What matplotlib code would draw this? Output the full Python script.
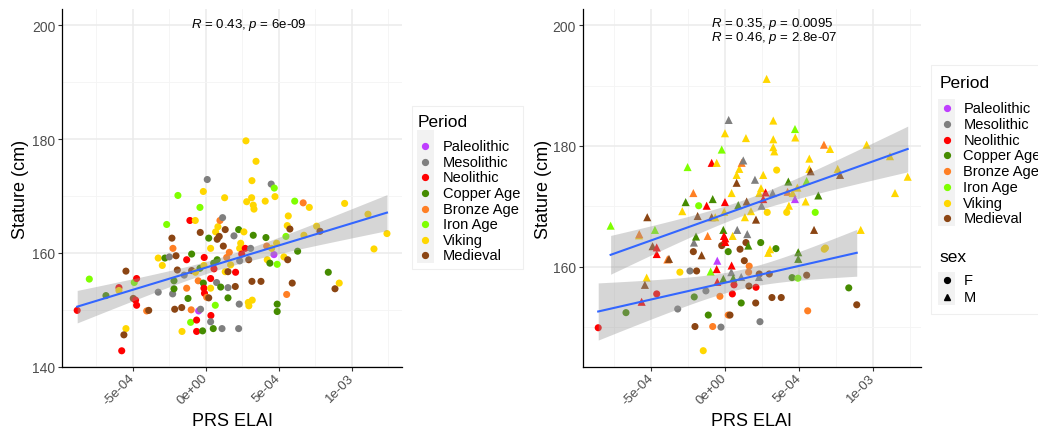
import numpy as np
import matplotlib
matplotlib.use("Agg")
import matplotlib.pyplot as plt
from matplotlib.patches import Rectangle

plt.rcParams['font.family'] = ['Liberation Sans', 'DejaVu Sans']
plt.rcParams['mathtext.fontset'] = 'custom'
plt.rcParams['mathtext.rm'] = 'Liberation Sans'
plt.rcParams['mathtext.it'] = 'Liberation Sans:italic'

# period names, short codes and colours
periods = ['Paleolithic', 'Mesolithic', 'Neolithic', 'Copper Age',
           'Bronze Age', 'Iron Age', 'Viking', 'Medieval']
period_codes = ['Pal', 'Mes', 'Neo', 'Cu', 'Br', 'Fe', 'Vik', 'Med']
period_colors = ['#BF3EFF', '#7F7F7F', '#FF0000', '#458B00',
                 '#FF7F24', '#7FFF00', '#FFD700', '#8B4513']

# left panel: all individuals (PRS in units of 1e-4)
left_prs = [-8.8, -7.97, -6.83, -5.94, -5.94, -5.46, -5.46, -5.6, -5.75, -4.89,
            -4.96, -4.73, -4.8, -4.73, -4.04, -3.9, -3.25, -3.25, -2.97, -2.79,
            -2.67, -2.49, -2.31, -2.24, -2.26, -2.17, -2.17, -2.12, -2.03, -1.94,
            -1.9, -1.62, -1.64, -1.47, -1.3, -1.21, -1.08, -1.03, -0.99, -0.96,
            -0.96, -1.3, -0.71, -0.62, -0.62, -0.51, -0.48, -0.39, -0.37, -0.39,
            -0.35, -0.21, -0.16, -0.16, -0.12, -0.1, -0.12, -0.08, 0.07, 0.21,
            0.11, 0.21, 0.34, 0.34, 0.34, 0.36, 0.34, 0.52, 0.55, 0.57,
            0.66, 0.75, 0.68, 0.84, 0.79, 0.93, 0.79, 0.98, 1.03, 1.12,
            1.16, 1.21, 1.3, 1.34, 1.34, 1.53, 1.53, 1.53, 1.44, 1.62,
            1.71, 1.94, 2.03, 2.05, 2.26, 2.3, 2.26, 2.4, 2.33, 2.47,
            2.33, 2.62, 2.76, 2.71, 2.81, 2.92, 2.96, 2.95, 3.08, 3.17,
            3.15, 3.17, 3.19, 3.26, 3.31, 3.26, 3.45, 3.79, 4.08, 4.13,
            4.18, 4.22, 4.4, 4.49, 4.68, 4.7, 4.75, 4.9, 4.9, 4.9,
            4.86, 5.36, 5.5, 5.55, 5.59, 5.66, 5.62, 5.77, 5.93, 6.1,
            6.3, 6.68, 6.73, 7.1, 7.6, 7.83, 8.4, 8.86, 9.15, 9.52,
            11.12, 11.53, 12.42, -0.7, 4.52]
left_stature = [149.9, 155.4, 152.5, 153.9, 153.4, 156.8, 146.7, 145.6, 142.8, 154.8,
                152.0, 155.5, 151.7, 150.8, 149.8, 149.9, 153.1, 159.1, 157.8, 159.1,
                165.0, 159.3, 162.6, 160.8, 152.8, 155.1, 153.7, 150.1, 159.5, 157.0,
                170.1, 146.2, 150.4, 156.1, 158.8, 152.0, 165.7, 147.8, 150.0, 159.8,
                156.9, 153.8, 165.7, 148.2, 146.2, 155.1, 149.8, 168.0, 163.6, 157.3,
                150.1, 146.3, 170.8, 154.7, 157.8, 159.2, 153.8, 152.9, 152.2, 152.1,
                172.9, 162.6, 160.8, 155.5, 153.8, 149.0, 147.9, 146.7, 158.2, 157.2,
                150.8, 154.8, 163.7, 164.6, 162.4, 162.9, 158.8, 165.7, 154.0, 146.7,
                166.2, 161.2, 169.7, 164.1, 156.7, 156.7, 153.9, 152.1, 159.2, 160.1,
                157.9, 163.0, 154.1, 156.6, 164.1, 151.0, 146.7, 161.7, 160.8, 159.8,
                158.6, 163.7, 179.7, 160.8, 169.0, 151.3, 150.7, 158.8, 160.8, 172.7,
                169.7, 155.0, 151.7, 168.4, 167.7, 163.1, 176.1, 155.0, 169.1, 162.7,
                161.2, 158.8, 158.2, 172.1, 159.7, 171.4, 169.9, 158.0, 151.0, 149.7,
                161.7, 159.3, 162.9, 152.7, 164.8, 166.5, 158.8, 164.2, 154.7, 169.1,
                160.3, 168.8, 163.1, 168.0, 164.7, 163.8, 156.6, 153.7, 154.7, 168.7,
                166.8, 160.7, 163.4, 156.6, 160.8]
left_period = ['Neo', 'Fe', 'Cu', 'Neo', 'Vik', 'Med', 'Vik', 'Med', 'Neo', 'Fe',
               'Med', 'Neo', 'Neo', 'Neo', 'Br', 'Med', 'Mes', 'Vik', 'Vik', 'Cu',
               'Fe', 'Mes', 'Med', 'Br', 'Mes', 'Cu', 'Cu', 'Med', 'Med', 'Med',
               'Fe', 'Vik', 'Med', 'Mes', 'Neo', 'Cu', 'Neo', 'Fe', 'Br', 'Cu',
               'Med', 'Br', 'Vik', 'Neo', 'Neo', 'Br', 'Pal', 'Fe', 'Med', 'Cu',
               'Mes', 'Cu', 'Vik', 'Cu', 'Vik', 'Neo', 'Neo', 'Neo', 'Br', 'Med',
               'Mes', 'Cu', 'Vik', 'Neo', 'Vik', 'Neo', 'Mes', 'Cu', 'Cu', 'Neo',
               'Fe', 'Mes', 'Vik', 'Vik', 'Med', 'Med', 'Cu', 'Br', 'Cu', 'Mes',
               'Mes', 'Med', 'Vik', 'Med', 'Vik', 'Med', 'Mes', 'Cu', 'Br', 'Br',
               'Vik', 'Mes', 'Med', 'Neo', 'Cu', 'Mes', 'Mes', 'Vik', 'Vik', 'Neo',
               'Mes', 'Vik', 'Vik', 'Neo', 'Vik', 'Vik', 'Vik', 'Med', 'Mes', 'Vik',
               'Vik', 'Med', 'Vik', 'Vik', 'Vik', 'Cu', 'Vik', 'Med', 'Vik', 'Cu',
               'Br', 'Vik', 'Cu', 'Mes', 'Pal', 'Fe', 'Vik', 'Fe', 'Cu', 'Cu',
               'Vik', 'Vik', 'Fe', 'Br', 'Vik', 'Vik', 'Med', 'Med', 'Med', 'Fe',
               'Cu', 'Br', 'Vik', 'Vik', 'Vik', 'Med', 'Cu', 'Med', 'Vik', 'Vik',
               'Vik', 'Vik', 'Vik', 'Vik', 'Vik']

# right panel, females (circles)
f_prs = [-8.58, -6.7, -4.62, -3.2, -3.05, -2.37, -1.92, -2.14, -2.08, -2.03,
         -1.78, -1.29, -1.13, -0.83, -1.47, -0.27, -0.22, -0.34, 0.22, 0.34,
         0.22, 0.5, 0.61, 1.02, 1.1, 1.31, 1.42, 1.62, 1.64, 1.6,
         2.08, 2.1, 2.37, 2.42, 2.32, 2.86, 3.0, 3.18, 3.45, 3.5,
         3.81, 4.18, 4.54, 4.94, 5.53, 5.6, 6.11, 6.72, 6.8, 8.38, 8.92]
f_stature = [149.9, 152.4, 155.5, 153.0, 159.1, 159.3, 159.3, 162.5, 155.0, 150.1,
             170.1, 156.0, 152.0, 150.1, 146.1, 150.0, 163.5, 155.1, 152.0, 152.0,
             162.5, 155.5, 157.0, 162.9, 154.0, 161.0, 164.0, 156.8, 160.1, 159.1,
             154.0, 156.6, 150.9, 164.0, 158.8, 169.0, 158.8, 154.9, 163.0, 176.0,
             154.9, 169.0, 158.2, 158.1, 158.6, 152.7, 169.0, 162.9, 163.1, 156.5, 153.7]
f_period = ['Neo', 'Cu', 'Neo', 'Mes', 'Vik', 'Mes', 'Med', 'Med', 'Cu', 'Med',
            'Fe', 'Mes', 'Cu', 'Br', 'Vik', 'Mes', 'Med', 'Br', 'Br', 'Med',
            'Cu', 'Neo', 'Neo', 'Med', 'Cu', 'Med', 'Med', 'Med', 'Br', 'Br',
            'Med', 'Neo', 'Mes', 'Cu', 'Med', 'Vik', 'Med', 'Med', 'Cu', 'Vik',
            'Med', 'Vik', 'Cu', 'Fe', 'Med', 'Br', 'Fe', 'Vik', 'Vik', 'Cu', 'Med']

# right panel, males (triangles)
m_prs = [-7.74, -5.82, -5.8, -5.26, -4.74, -4.9, -4.62, -4.62, -5.3, -5.42,
         -5.64, -3.9, -3.79, -2.89, -2.66, -2.53, -2.14, -2.1, -1.96, -1.85,
         -1.58, -1.24, -1.17, -0.97, -0.9, -0.83, -0.9, -0.56, -0.66, -0.52,
         -0.56, -0.52, -0.22, -0.11, -0.11, -0.05, 0.0, 0.0, -0.07, 0.02,
         0.02, 0.25, 0.45, 0.45, 0.43, 0.52, 0.56, 0.79, 0.79, 0.9,
         0.83, 0.97, 1.13, 1.24, 1.35, 1.42, 1.47, 1.51, 1.58, 1.76,
         2.03, 2.1, 2.32, 2.48, 2.44, 2.59, 2.59, 2.75, 2.82, 2.93,
         3.05, 3.23, 3.27, 3.27, 3.27, 3.34, 4.29, 4.24, 4.33, 4.58,
         4.74, 4.76, 4.74, 4.9, 4.96, 4.96, 5.46, 5.53, 5.71, 5.71,
         5.8, 6.03, 6.32, 6.7, 7.11, 7.63, 7.79, 9.19, 9.59, 11.17,
         11.51, 12.37, 1.1, 2.3]
m_stature = [166.8, 165.2, 165.4, 168.2, 166.1, 163.4, 163.2, 162.1, 158.2, 157.0,
             154.2, 161.2, 161.3, 169.2, 170.7, 176.5, 172.2, 164.0, 165.0, 168.4,
             161.9, 170.1, 165.1, 159.2, 177.2, 171.2, 168.2, 177.2, 168.2, 161.0,
             159.6, 157.5, 179.4, 158.0, 166.1, 169.1, 182.1, 170.7, 165.1, 164.7,
             164.1, 184.3, 172.2, 160.2, 159.1, 165.1, 158.1, 173.9, 175.2, 170.2,
             166.1, 176.2, 177.2, 177.6, 168.2, 181.3, 170.8, 165.4, 163.5, 169.2,
             174.4, 167.8, 172.2, 170.1, 173.0, 175.2, 171.2, 172.3, 191.1, 162.3,
             162.9, 172.2, 184.2, 181.1, 179.8, 179.1, 174.1, 172.4, 170.1, 172.2,
             182.8, 181.4, 171.2, 173.1, 162.4, 161.3, 170.8, 174.2, 177.9, 176.2,
             175.8, 166.1, 171.8, 180.2, 179.5, 176.2, 175.2, 166.1, 180.2, 178.3,
             172.2, 174.9, 158.3, 158.3]
m_period = ['Fe', 'Vik', 'Br', 'Med', 'Fe', 'Med', 'Neo', 'Neo', 'Vik', 'Med',
            'Neo', 'Br', 'Med', 'Vik', 'Cu', 'Fe', 'Br', 'Mes', 'Cu', 'Med',
            'Med', 'Neo', 'Br', 'Fe', 'Neo', 'Cu', 'Med', 'Vik', 'Vik', 'Pal',
            'Neo', 'Neo', 'Fe', 'Cu', 'Cu', 'Vik', 'Vik', 'Neo', 'Neo', 'Neo',
            'Neo', 'Mes', 'Vik', 'Neo', 'Mes', 'Vik', 'Cu', 'Med', 'Vik', 'Cu',
            'Mes', 'Vik', 'Br', 'Mes', 'Vik', 'Vik', 'Med', 'Mes', 'Cu', 'Vik',
            'Mes', 'Med', 'Vik', 'Mes', 'Vik', 'Vik', 'Neo', 'Neo', 'Vik', 'Vik',
            'Vik', 'Mes', 'Vik', 'Vik', 'Vik', 'Vik', 'Cu', 'Br', 'Vik', 'Vik',
            'Fe', 'Vik', 'Pal', 'Vik', 'Cu', 'Cu', 'Vik', 'Fe', 'Vik', 'Vik',
            'Med', 'Med', 'Cu', 'Br', 'Vik', 'Vik', 'Med', 'Vik', 'Vik', 'Vik',
            'Vik', 'Vik', 'Mes', 'Mes']

left_label = ['$R$ = 0.43, $p$ = 6e-09']
right_labels = ['$R$ = 0.35, $p$ = 0.0095', '$R$ = 0.46, $p$ = 2.8e-07']
xtick_vals = [-5e-4, 0, 5e-4, 1e-3]
xtick_labels = ['-5e-04', '0e+00', '5e-04', '1e-03']

W, H = 1038, 435
color_of = dict(zip(period_codes, period_colors))


def fit_band(x, y, n=100):
    #linear fit with 95% confidence band, like geom_smooth(method='lm')
    x = np.asarray(x)
    y = np.asarray(y)
    b, a = np.polyfit(x, y, 1)
    xs = np.linspace(x.min(), x.max(), n)
    resid = y - (a + b * x)
    s = np.sqrt(np.sum(resid ** 2) / (len(x) - 2))
    sxx = np.sum((x - x.mean()) ** 2)
    se = s * np.sqrt(1.0 / len(x) + (xs - x.mean()) ** 2 / sxx)
    ys = a + b * xs
    return xs, ys, ys - 1.97 * se, ys + 1.97 * se


def style_axes(ax, xlim, ylim, yticks):
    ax.set_xlim(xlim)
    ax.set_ylim(ylim)
    ax.set_xticks(xtick_vals)
    ax.set_xticklabels(xtick_labels)
    ax.set_xticks([-7.5e-4, -2.5e-4, 2.5e-4, 7.5e-4, 1.25e-3], minor=True)
    ax.set_yticks(yticks)
    ax.set_yticks([150, 170, 190], minor=True)
    ax.grid(which='major', color='#EBEBEB', lw=1.1)
    ax.grid(which='minor', color='#F4F4F4', lw=0.6)
    ax.set_axisbelow(True)
    for side in ['top', 'right']:
        ax.spines[side].set_visible(False)
    for side in ['left', 'bottom']:
        ax.spines[side].set_color('black')
        ax.spines[side].set_linewidth(0.9)
    ax.tick_params(which='major', length=3, color='#333333', labelcolor='#4D4D4D')
    ax.tick_params(axis='y', pad=2, labelsize=10)
    ax.tick_params(axis='x', pad=3.5, labelsize=9.5)
    ax.tick_params(which='minor', length=0)
    for lab in ax.get_xticklabels():
        lab.set_rotation(45)
        lab.set_ha('right')
        lab.set_va('center')
        lab.set_rotation_mode('anchor')
    ax.set_xlabel('PRS ELAI', fontsize=13)
    ax.set_ylabel('Stature (cm)', fontsize=13)
    ax.xaxis.label.set_va('center')
    ax.yaxis.label.set_va('center')
    ax.xaxis.set_label_coords(0.5, -0.15)


def draw_smooth(ax, x, y):
    xs, ys, lo, hi = fit_band(x, y)
    ax.fill_between(xs, lo, hi, color='#999999', alpha=0.4, lw=0, zorder=3)
    ax.plot(xs, ys, color='#3366FF', lw=1.5, zorder=4)


def legend_block(fig, x0, key_x, text_x, title_y, item_ys, labels, colors,
                 markers, title, bg_top, bg_bottom):
    fig.text(x0 / W, 1 - title_y / H, title, fontsize=12.5, ha='left', va='center')
    fig.patches.append(Rectangle(((key_x - 8.5) / W, 1 - bg_bottom / H),
                                 17 / W, (bg_bottom - bg_top) / H,
                                 transform=fig.transFigure, color='#F2F2F2',
                                 lw=0, zorder=1))
    for yy, lab, c, m in zip(item_ys, labels, colors, markers):
        fig.lines.append(plt.Line2D([key_x / W], [1 - yy / H], marker=m,
                                    color=c, markersize=4.2, lw=0,
                                    transform=fig.transFigure, zorder=2))
        fig.text(text_x / W, 1 - yy / H, lab, fontsize=10.5, ha='left', va='center')


fig = plt.figure(figsize=(W / 100, H / 100), dpi=100)

# left panel
ax1 = fig.add_axes([62.3 / W, 1 - 368 / H, 339.7 / W, 358 / H])
lx = np.array(left_prs) * 1e-4
ly = np.array(left_stature)
lc = [color_of[p] for p in left_period]
ax1.scatter(lx, ly, c=lc, s=26, marker='o', lw=0, zorder=2)
draw_smooth(ax1, lx, ly)
style_axes(ax1, (-9.82e-4, 13.45e-4), (139.95, 202.87), [140, 160, 180, 200])
ax1.yaxis.set_label_coords(-0.1225, 0.5)
ax1.text(0.38, 0.958, left_label[0], transform=ax1.transAxes, fontsize=9.5,
         ha='left', va='center')

# right panel
ax2 = fig.add_axes([582.7 / W, 1 - 368 / H, 338.3 / W, 358 / H])
fx = np.array(f_prs) * 1e-4
fy = np.array(f_stature)
mx = np.array(m_prs) * 1e-4
my = np.array(m_stature)
ax2.scatter(fx, fy, c=[color_of[p] for p in f_period], s=26, marker='o', lw=0, zorder=2)
ax2.scatter(mx, my, c=[color_of[p] for p in m_period], s=34, marker='^', lw=0, zorder=2)
draw_smooth(ax2, fx, fy)
draw_smooth(ax2, mx, my)
style_axes(ax2, (-9.63e-4, 13.27e-4), (143.4, 202.67), [160, 180, 200])
ax2.yaxis.set_label_coords(-0.117, 0.5)
ax2.text(0.38, 0.961, right_labels[0], transform=ax2.transAxes, fontsize=9.5,
         ha='left', va='center')
ax2.text(0.38, 0.921, right_labels[1], transform=ax2.transAxes, fontsize=9.5,
         ha='left', va='center')

# legends
fig.patches.append(Rectangle((412 / W, 1 - 270 / H), 111 / W, 163 / H,
                             transform=fig.transFigure, facecolor='white',
                             edgecolor='#EFEFEF', lw=0.8, zorder=0))
fig.patches.append(Rectangle((931 / W, 1 - 315 / H), 120 / W, 249 / H,
                             transform=fig.transFigure, facecolor='white',
                             edgecolor='#EFEFEF', lw=0.8, zorder=0))
left_ys = [147.3 + i * 15.57 for i in range(len(periods))]
legend_block(fig, 418, 425.3, 442.7, 122.3, left_ys, periods, period_colors,
             ['o'] * len(periods), 'Period', 131, 264)
right_ys = [109 + i * 15.76 for i in range(len(periods))]
legend_block(fig, 939.3, 946.7, 963.3, 83.3, right_ys, periods, period_colors,
             ['o'] * len(periods), 'Period', 100, 227)
legend_block(fig, 939.3, 946.7, 963.3, 257.3, [280.7, 298.3], ['F', 'M'],
             ['black', 'black'], ['o', '^'], 'sex', 273, 306)

fig.savefig('out.png', dpi=100)
